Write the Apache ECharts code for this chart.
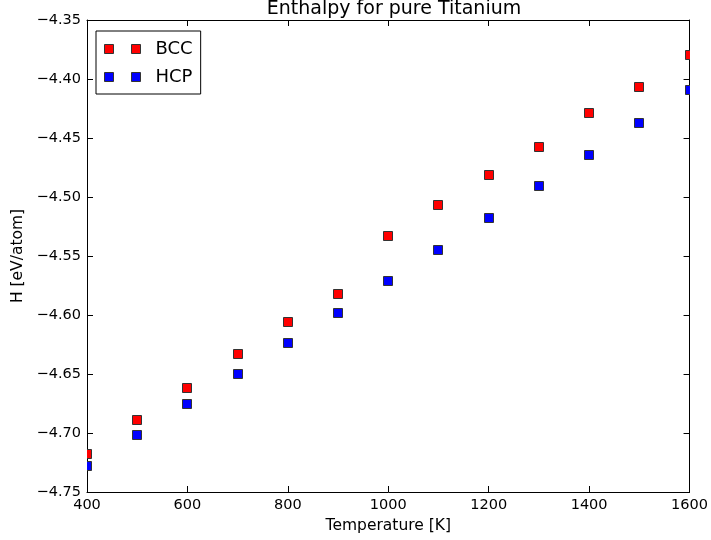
<!DOCTYPE html>
<html>
<head>
<meta charset="utf-8">
<script src="https://cdn.jsdelivr.net/npm/echarts@6/dist/echarts.min.js"></script>
<style>html,body{margin:0;padding:0;background:#fff;}#c{width:711px;height:540px;}</style>
</head>
<body>
<div id="c"></div>
<script>
const temperatures = [400, 500, 600, 700, 800, 900, 1000, 1100, 1200, 1300, 1400, 1500, 1600];
const bccH = [-4.718, -4.689, -4.662, -4.633, -4.606, -4.582, -4.533, -4.507, -4.481, -4.458, -4.429, -4.407, -4.380];
const hcpH = [-4.728, -4.702, -4.675, -4.650, -4.624, -4.598, -4.571, -4.545, -4.518, -4.491, -4.464, -4.437, -4.409];
const seriesNames = ['BCC', 'HCP'];
const seriesColors = ['#ff0000', '#0000ff'];
const titleText = 'Enthalpy for pure Titanium';
const xLabel = 'Temperature [K]';
const yLabel = 'H [eV/atom]';

const FONT = 'DejaVu Sans';
const fmtY = v => (v < 0 ? '\u2212' : '') + Math.abs(v).toFixed(2);
const fmtX = v => String(Math.round(v));
const pairs = (xs, ys) => xs.map((x, i) => [x, ys[i]]);
const tick = {show: true, inside: true, length: 6, lineStyle: {color: '#000', width: 1}};
const line = {show: true, onZero: false, lineStyle: {color: '#000', width: 1}};
const iconPath = 'path://M0,0h9v9h-9z M27,0h9v9h-9z';
const MS = 9;

function squareSeries(name, color, ys) {
  return {
    name: name, type: 'custom', clip: true,
    itemStyle: {color: color, borderColor: '#333', borderWidth: 1},
    encode: {x: 0, y: 1},
    data: pairs(temperatures, ys),
    renderItem: function (params, api) {
      const p = api.coord([api.value(0), api.value(1)]);
      return {
        type: 'rect',
        shape: {x: Math.round(p[0]) - MS / 2, y: Math.round(p[1]) - MS / 2, width: MS, height: MS},
        style: {fill: color, stroke: '#333', lineWidth: 1}
      };
    }
  };
}

const chart = echarts.init(document.getElementById('c'), null, {renderer: 'canvas'});
chart.setOption({
  animation: false,
  backgroundColor: '#fff',
  title: {
    text: titleText, left: 389, top: -5, textAlign: 'center',
    textStyle: {fontFamily: FONT, fontSize: 19, fontWeight: 'normal', color: '#000'}
  },
  grid: {left: 87, right: 20, top: 20, bottom: 48, containLabel: false},
  legend: {
    orient: 'vertical', left: 96, top: 31,
    data: seriesNames,
    icon: iconPath, itemWidth: 36, itemHeight: 9, itemGap: 10,
    padding: [9, 8, 8, 8],
    borderColor: '#000', borderWidth: 1, backgroundColor: '#fff',
    itemStyle: {borderColor: '#333', borderWidth: 1},
    textStyle: {fontFamily: FONT, fontSize: 18, color: '#000', padding: [0, 0, 0, 10]}
  },
  xAxis: [
    {type: 'value', min: 400, max: 1600, interval: 200, position: 'bottom',
     name: xLabel, nameLocation: 'middle', nameGap: 26,
     nameTextStyle: {fontFamily: FONT, fontSize: 15.5, color: '#000'},
     axisLine: line, axisTick: tick, splitLine: {show: false},
     axisLabel: {fontFamily: FONT, fontSize: 14.5, color: '#000', margin: 6, formatter: fmtX}},
    {type: 'value', min: 400, max: 1600, interval: 200, position: 'top',
     axisLine: line, axisTick: tick, splitLine: {show: false}, axisLabel: {show: false}}
  ],
  yAxis: [
    {type: 'value', min: -4.75, max: -4.35, interval: 0.05, position: 'left',
     name: yLabel, nameLocation: 'middle', nameGap: 60, nameRotate: 90,
     nameTextStyle: {fontFamily: FONT, fontSize: 15.5, color: '#000'},
     axisLine: line, axisTick: tick, splitLine: {show: false},
     axisLabel: {fontFamily: FONT, fontSize: 14.5, color: '#000', margin: 6, formatter: fmtY}},
    {type: 'value', min: -4.75, max: -4.35, interval: 0.05, position: 'right',
     axisLine: line, axisTick: tick, splitLine: {show: false}, axisLabel: {show: false}}
  ],
  series: [
    squareSeries(seriesNames[0], seriesColors[0], bccH),
    squareSeries(seriesNames[1], seriesColors[1], hcpH)
  ]
});
</script>
</body>
</html>
